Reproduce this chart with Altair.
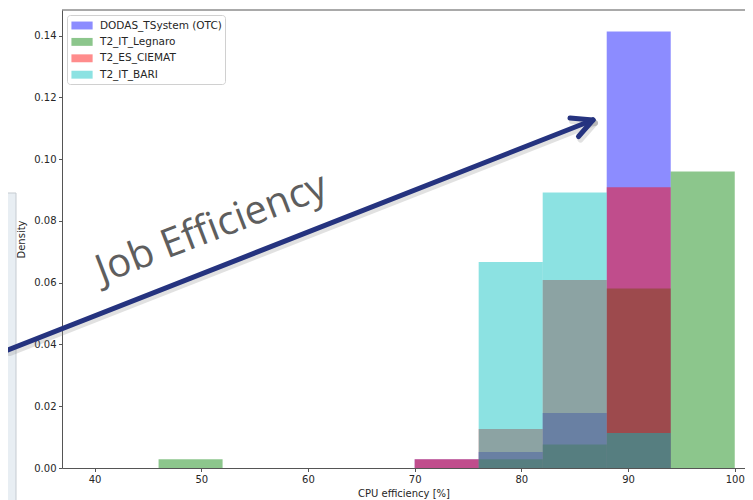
import altair as alt
import pandas as pd

# ---- data ----
bin_edges = [40, 46, 52, 58, 64, 70, 76, 82, 88, 94, 100]
series_names = ["DODAS_TSystem (OTC)", "T2_IT_Legnaro", "T2_ES_CIEMAT", "T2_IT_BARI"]
series_colors = ["#0000ff", "#008000", "#ff0000", "#00bfbf"]
dodas = [0, 0, 0, 0, 0, 0.0028, 0.0052, 0.0178, 0.1413, 0]
legnaro = [0, 0.0028, 0, 0, 0, 0, 0.0028, 0.0076, 0.0581, 0.0960]
ciemat = [0, 0, 0, 0, 0, 0.0028, 0.0126, 0.0609, 0.0909, 0]
bari = [0, 0, 0, 0, 0, 0, 0.0667, 0.0892, 0.0113, 0]
x_ticks = [40, 50, 60, 70, 80, 90, 100]
y_ticks = [0.00, 0.02, 0.04, 0.06, 0.08, 0.10, 0.12, 0.14]

rows = []
for name, vals in zip(series_names, [dodas, legnaro, ciemat, bari]):
    for i, v in enumerate(vals):
        if v > 0:
            rows.append({"series": name, "start": bin_edges[i], "end": bin_edges[i + 1], "density": v})
df = pd.DataFrame(rows)

W, H = 683, 458
FONT = "DejaVu Sans"
AX = "#555555"
LBL = "#262626"

bars = alt.Chart(df).mark_rect(opacity=0.45).encode(
    x=alt.X("start:Q", scale=alt.Scale(domain=[36.95, 100.96], nice=False, zero=False),
            axis=alt.Axis(values=x_ticks, format="d", title="CPU efficiency [%]", grid=False,
                          tickSize=3.5, labelPadding=3, titlePadding=4)),
    x2="end:Q",
    y=alt.Y("density:Q", scale=alt.Scale(domain=[0, 0.1483], nice=False),
            axis=alt.Axis(values=y_ticks, format=".2f", title="Density", grid=False,
                          tickSize=3.5, labelPadding=2.5, titlePadding=7)),
    y2=alt.datum(0),
    color=alt.Color("series:N", sort=series_names,
                    scale=alt.Scale(domain=series_names, range=series_colors),
                    legend=alt.Legend(orient="none", legendX=5, legendY=5, title=None,
                                      symbolType="M-0.86,-0.56L2.14,-0.56L2.14,0.56L-0.86,0.56Z",
                                      symbolSize=200, symbolOpacity=0.45, symbolStrokeWidth=0,
                                      labelFontSize=10.5, labelFont=FONT, labelColor=LBL,
                                      padding=3, strokeColor="#d0d0d0", cornerRadius=3,
                                      fillColor="white", rowPadding=3.4, labelOffset=15)),
)

one = pd.DataFrame({"a": [0]})

panel = alt.Chart(one).mark_rect(fill="#e8eef3", stroke="#c5cbd1", strokeWidth=1).encode(
    x=alt.value(-70), x2=alt.value(-46), y=alt.value(183), y2=alt.value(520))

top_spine = alt.Chart(one).mark_rule(color=AX, strokeWidth=1).encode(
    x=alt.value(0), x2=alt.value(W), y=alt.value(0))

# arrow (annotation, pixel positions)
ax0, ay0 = -54, 340
ax1, ay1 = 531, 110
wing1 = (508, 108)
wing2 = (516.5, 126.5)

def arrow_layer(dx, dy, color, width, opacity):
    segs = [((ax0, ay0), (ax1, ay1)), (wing1, (ax1, ay1)), (wing2, (ax1, ay1))]
    layers = []
    for (p, q) in segs:
        layers.append(alt.Chart(one).mark_rule(color=color, strokeWidth=width, strokeCap="round",
                                               opacity=opacity).encode(
            x=alt.value(p[0] + dx), y=alt.value(p[1] + dy),
            x2=alt.value(q[0] + dx), y2=alt.value(q[1] + dy)))
    return layers

shadow = arrow_layer(2, 3, "#888888", 6, 0.25)
arrow = arrow_layer(0, 0, "#25337f", 5, 1.0)

label = alt.Chart(one).mark_text(text="Job Efficiency", font="Open Sans", fontSize=40,
                                 color="#5e5e5e", angle=339, align="center",
                                 baseline="alphabetic").encode(
    x=alt.value(154), y=alt.value(230))

chart = alt.layer(panel, bars, top_spine, *shadow, *arrow, label).properties(
    width=W, height=H,
    autosize=alt.AutoSizeParams(type="none"),
    padding={"left": 54, "top": 2, "right": 0, "bottom": 32},
).configure_view(stroke=None).configure_axis(
    domainColor=AX, tickColor=AX, labelFont=FONT, titleFont=FONT, labelFontSize=10,
    titleFontSize=10, labelColor=LBL, titleColor=LBL, titleFontWeight="normal",
    domainWidth=1, tickWidth=1)

chart.save("out.html", embed_options={"renderer": "svg", "actions": False})
